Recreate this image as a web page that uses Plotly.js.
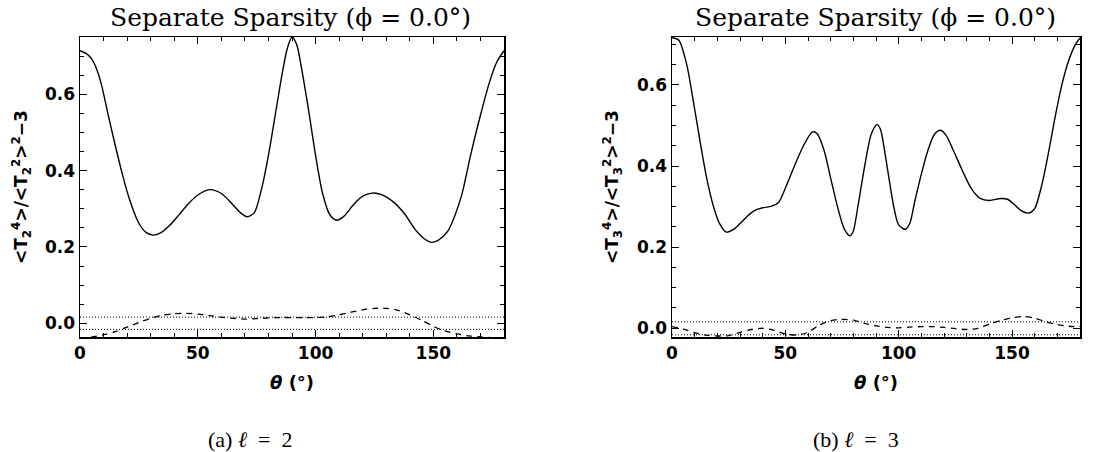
<!DOCTYPE html>
<html>
<head>
<meta charset="utf-8">
<script src="https://cdn.plot.ly/plotly-3.0.1.min.js"></script>
<style>html,body{margin:0;padding:0;background:#fff;}#plot{width:1103px;height:452px;}</style>
</head>
<body>
<div id="plot"></div>
<script>
// ---- Data ----
// Panel (a) l = 2 : solid curve
const thetaA = [0,3,5,7,9,12,15,18,21,25,28,31,34,38,42,46,50,55,60,65,68,71,74,77,80,83,86,88,90,92,94,97,100,103,106,109,112,116,120,124,128,133,138,142,146,149,152,156,159,162,166,170,174,177,180];
const kurtA  = [0.714,0.705,0.692,0.667,0.628,0.545,0.465,0.39,0.325,0.262,0.238,0.231,0.236,0.256,0.284,0.313,0.336,0.350,0.34,0.31,0.29,0.279,0.29,0.35,0.44,0.55,0.66,0.72,0.75,0.73,0.67,0.56,0.44,0.34,0.285,0.270,0.28,0.31,0.333,0.341,0.337,0.318,0.285,0.248,0.222,0.212,0.217,0.240,0.28,0.335,0.445,0.545,0.635,0.685,0.714];
// Panel (a) dashed curve
const thetaA2 = [0,5,10,15,20,25,30,35,40,45,50,55,60,65,70,75,80,85,90,95,100,105,110,115,120,125,130,135,140,145,150,155,160,165,170,175,180];
const dashA   = [-0.04,-0.036,-0.03,-0.022,-0.01,0.002,0.013,0.021,0.025,0.026,0.024,0.02,0.016,0.013,0.011,0.012,0.014,0.015,0.015,0.015,0.015,0.017,0.022,0.029,0.035,0.039,0.039,0.034,0.022,0.008,-0.008,-0.02,-0.028,-0.033,-0.036,-0.038,-0.04];
// Panel (b) l = 3 : solid curve
const thetaB = [0,3,6.5,9.4,12.4,15.3,18.3,21,24,27,30,33,36,40,44,47,50,54,58,62,64,67,70,73,76,78.5,80,82,85,88,90.5,92,94,96,98,100,103,105,107,110,113,116,118.5,121,124,128,132,136,140,145,148,151,154,157.5,160,163,166,169,172,175,178,180];
const kurtB  = [0.716,0.71,0.65,0.56,0.46,0.37,0.30,0.258,0.237,0.243,0.258,0.275,0.289,0.297,0.301,0.31,0.345,0.40,0.45,0.484,0.48,0.44,0.37,0.30,0.245,0.228,0.24,0.30,0.40,0.48,0.502,0.49,0.43,0.36,0.295,0.255,0.244,0.26,0.31,0.38,0.44,0.48,0.488,0.475,0.44,0.39,0.345,0.32,0.315,0.32,0.318,0.305,0.29,0.284,0.295,0.35,0.43,0.52,0.60,0.66,0.70,0.716];
// Panel (b) dashed curve
const thetaB2 = [0,5,10,15,20,25,30,35,40,45,50,55,60,65,70,75,80,85,90,95,100,105,110,115,120,125,130,135,140,145,150,155,160,165,170,175,180];
const dashB   = [0.004,-0.002,-0.011,-0.017,-0.019,-0.018,-0.01,-0.003,0.0,-0.005,-0.014,-0.017,-0.01,0.008,0.019,0.022,0.02,0.012,0.006,0.002,0.001,0.003,0.004,0.004,0.002,-0.001,-0.003,0.0,0.01,0.019,0.026,0.029,0.025,0.016,0.009,0.005,0.004];
// Dotted reference levels
const bandLevels = [0.016, -0.016];
const xTickVals = [0,50,100,150];
const yTickVals = [0.0,0.2,0.4,0.6];
const panelTitle = "Separate Sparsity (\u03D5 = 0.0\u00B0)";
const captions = ["(a) <i>\u2113</i>\u2002=\u20022", "(b) <i>\u2113</i>\u2002=\u20023"];

const W = 1103, H = 452;
const px = v => v / W;
const py = v => 1 - v / H;

const traces = [];
function addPanel(ax, th, k, th2, d) {
  const xa = 'x' + (ax === 1 ? '' : ax), ya = 'y' + (ax === 1 ? '' : ax);
  traces.push({x: th, y: k, xaxis: xa, yaxis: ya, mode: 'lines', line: {color: '#000', width: 1.4, shape: 'spline', smoothing: 0.8}, hoverinfo: 'skip'});
  traces.push({x: th2, y: d, xaxis: xa, yaxis: ya, mode: 'lines', line: {color: '#000', width: 1.3, dash: '6px,5px', shape: 'spline', smoothing: 0.8}, hoverinfo: 'skip'});
  bandLevels.forEach(b => {
    traces.push({x: [0, 180], y: [b, b], xaxis: xa, yaxis: ya, mode: 'lines', line: {color: '#000', width: 1, dash: '1px,2px'}, hoverinfo: 'skip'});
  });
}
addPanel(1, thetaA, kurtA, thetaA2, dashA);
addPanel(2, thetaB, kurtB, thetaB2, dashB);

const tickFont = {family: 'DejaVu Sans, sans-serif', size: 17, color: '#000', weight: 'bold'};
function xaxisDef(domain, anchor) {
  return {domain: domain, anchor: anchor, range: [0, 180], showgrid: false, zeroline: false,
    showline: true, linecolor: '#000', linewidth: 1.5, mirror: 'ticks',
    ticks: 'inside', ticklen: 7, tickwidth: 1, tickcolor: '#000',
    tickvals: xTickVals, ticktext: xTickVals.map(String), tickfont: tickFont,
    minor: {dtick: 10, ticks: 'inside', ticklen: 4, tickcolor: '#000', tickwidth: 1}};
}
function yaxisDef(domain, anchor, range) {
  return {domain: domain, anchor: anchor, range: range, showgrid: false, zeroline: false,
    showline: true, linecolor: '#000', linewidth: 1.5, mirror: 'ticks',
    ticks: 'inside', ticklen: 7, tickwidth: 1, tickcolor: '#000',
    tickvals: yTickVals, ticktext: yTickVals.map(v => v.toFixed(1)), tickfont: tickFont,
    minor: {dtick: 0.05, tick0: 0, ticks: 'inside', ticklen: 4, tickcolor: '#000', tickwidth: 1}};
}
const yDom = [py(337), py(37)];
const titleFont = {family: 'DejaVu Serif, serif', size: 25, color: '#000'};
const labFont = {family: 'DejaVu Sans, sans-serif', size: 18, color: '#000', weight: 'bold'};
const yLabFont = {family: 'DejaVu Sans, sans-serif', size: 17, color: '#000', weight: 'bold'};
const capFont = {family: 'Liberation Serif, serif', size: 22, color: '#000'};
function ytitle(l) {
  return '&lt;T<sub>' + l + '</sub><sup>4</sup>&gt;/&lt;T<sub>' + l + '</sub><sup>2</sup>&gt;<sup>2</sup>\u22123';
}
const ann = [
  {text: panelTitle, x: px(290), y: py(17), font: titleFont},
  {text: panelTitle, x: px(875), y: py(17), font: titleFont},
  {text: '<i>\u03B8</i> (\u00B0)', x: px(292), y: py(382), font: labFont},
  {text: '<i>\u03B8</i> (\u00B0)', x: px(876), y: py(382), font: labFont},
  {text: ytitle(2), x: px(22), y: py(187), font: yLabFont, textangle: -90},
  {text: ytitle(3), x: px(613), y: py(187), font: yLabFont, textangle: -90},
  {text: captions[0], x: px(250), y: py(439), font: capFont},
  {text: captions[1], x: px(856), y: py(439), font: capFont}
].map(a => Object.assign({xref: 'paper', yref: 'paper', showarrow: false, xanchor: 'center', yanchor: 'middle'}, a));

const layout = {
  width: W, height: H, margin: {l: 0, r: 0, t: 0, b: 0},
  paper_bgcolor: '#fff', plot_bgcolor: '#fff', showlegend: false,
  xaxis: xaxisDef([px(80), px(504)], 'y'),
  yaxis: yaxisDef(yDom, 'x', [-0.036, 0.75]),
  xaxis2: xaxisDef([px(672), px(1080)], 'y2'),
  yaxis2: yaxisDef(yDom, 'x2', [-0.0215, 0.718]),
  annotations: ann
};
Plotly.newPlot('plot', traces, layout, {staticPlot: true, displayModeBar: false});
</script>
</body>
</html>
